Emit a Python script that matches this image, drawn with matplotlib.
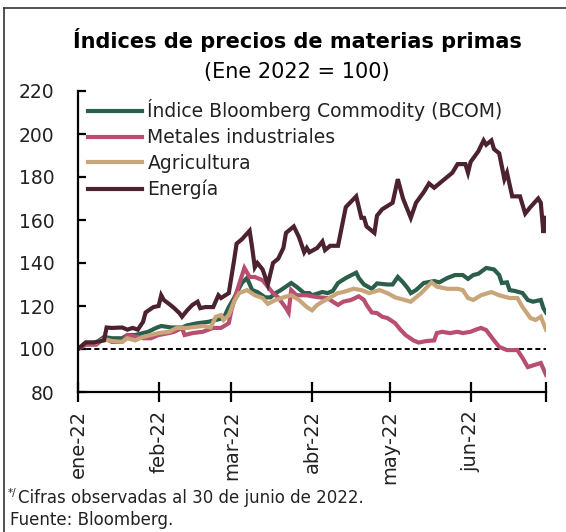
import matplotlib
matplotlib.use('Agg')
import matplotlib.pyplot as plt
import pandas as pd
from matplotlib.lines import Line2D

plt.rcParams['font.family'] = ['DejaVu Sans']

# Days counted from 1 Jan 2022
bcom_days = [0, 3, 7, 10, 13, 17, 19, 22, 25, 27, 30, 32, 36, 40, 42, 46, 50, 53, 56, 58,
             60, 63, 65, 67, 69, 72, 74, 76, 78, 82, 84, 87, 89, 90, 94, 96, 98, 100, 103, 107,
             108, 110, 113, 115, 119, 121, 123, 125, 127, 128, 130, 133, 137, 139, 142, 145, 148, 150, 152, 154,
             157, 160, 162, 163, 165, 166, 168, 171, 173, 175, 178, 179, 180]
bcom_vals = [100, 103, 103, 105.6, 105, 105, 106.5, 106.5, 107.4, 108, 109.8, 110.7, 110, 110, 111, 112, 112.6, 113.5, 114.4, 119.5,
             123.7, 130.7, 133, 127.4, 126.5, 124, 124, 126, 127.4, 130.7, 129, 126, 126, 125, 126.5, 126, 127, 130.7, 133, 135.5,
             133, 130, 128, 130.5, 130, 130, 133.5, 131, 128, 126, 127.4, 130.7, 131.6, 131, 133, 134.4, 134.4, 132.6, 134.4, 135,
             137.7, 137, 134.4, 130.7, 131, 127.4, 127, 126, 122.8, 122, 122.8, 119, 117]

metals_days = [0, 3, 7, 10, 13, 17, 19, 23, 25, 28, 31, 35, 37, 40, 41, 44, 48, 52, 55, 58,
               59, 61, 64, 66, 68, 71, 73, 75, 77, 80, 81, 82, 84, 88, 90, 93, 96, 98, 100, 102,
               105, 108, 110, 111, 113, 115, 117, 119, 122, 124, 126, 129, 131, 134, 137, 138, 140, 143, 146, 148,
               151, 153, 155, 157, 160, 162, 165, 169, 171, 173, 178, 180]
metals_vals = [100, 102, 102, 105, 103.3, 103.3, 106.5, 105.6, 105, 105, 106.5, 107.4, 108, 109.8, 106.5, 107.4, 108, 109.8, 109.8, 112,
               118, 126.5, 137.7, 133.5, 133.5, 132, 129, 126, 124, 119, 117, 127.4, 125, 125, 124.5, 124, 123.7, 122, 120.5, 122,
               122.8, 124.5, 122.8, 120.5, 117, 116.7, 115, 114.4, 112, 109, 106.5, 104, 103, 103.7, 104, 107.4, 108, 107.4, 108, 107.4,
               108, 109, 109.8, 108.8, 104, 101, 99.5, 99.5, 95.8, 91.6, 93.5, 88]

agri_days = [0, 3, 7, 10, 13, 17, 19, 22, 25, 28, 31, 35, 38, 42, 48, 51, 53, 55, 56, 58,
             60, 62, 65, 68, 71, 73, 76, 79, 82, 85, 88, 90, 92, 94, 97, 100, 102, 106, 109, 112,
             116, 119, 122, 125, 128, 132, 136, 138, 142, 146, 148, 150, 152, 155, 159, 162, 166, 169, 171, 174,
             176, 178, 180]
agri_vals = [100, 103, 103, 104.6, 103.7, 103.3, 105, 104, 105.6, 106.5, 107.4, 108, 109.8, 109.8, 110.7, 110, 115, 115.8, 113.5, 115.8,
             122, 126, 127.4, 125, 123.7, 121, 122.8, 124, 125, 122.8, 119.5, 118, 120.5, 122, 124, 126, 126.5, 128, 127.4, 126,
             127.4, 126, 124, 123, 122, 126, 131, 129, 128, 128, 127.4, 123.7, 122.8, 125, 126.5, 125, 123.7, 123.7, 119.5, 114.4,
             113.5, 115, 109]

energy_days = [0, 3, 6, 10, 11, 13, 17, 19, 21, 23, 25, 26, 29, 31, 32, 33, 35, 37, 39, 40,
               42, 44, 46, 47, 49, 52, 54, 55, 58, 59, 60, 61, 63, 66, 67, 68, 69, 71, 73, 75,
               77, 79, 80, 83, 85, 87, 88, 89, 92, 94, 95, 97, 100, 103, 107, 109, 110, 111, 114, 115,
               117, 121, 123, 125, 128, 130, 133, 135, 137, 139, 140, 142, 144, 146, 149, 150, 151, 154, 156, 157,
               159, 160, 162, 164, 165, 167, 170, 172, 174, 177, 178, 179, 180]
energy_vals = [100, 103, 103, 104, 110, 109.8, 110, 109, 109.8, 109, 112.6, 117, 119.5, 120, 125, 122.8, 121, 119, 116.7, 115,
               118, 120.5, 122, 119, 119.5, 119.5, 125, 123.7, 126, 133.5, 141, 149, 151, 155, 147, 138, 140, 137, 130, 140,
               142, 147, 154, 157, 152, 145, 147, 145, 147, 150, 146, 148, 148, 166, 171, 161, 161, 157, 154, 162,
               165, 168, 179, 170, 161, 168, 173, 177, 175, 177, 178, 180, 182, 186, 186, 182, 187, 192, 197, 195,
               197, 193, 191, 179, 182, 171, 171, 163, 166, 170, 168, 154, 161]

series_labels = ['Índice Bloomberg Commodity (BCOM)', 'Metales industriales', 'Agricultura', 'Energía']
series_colors = ['#2b5e4b', '#b84f70', '#c9a57a', '#4d2230']

tick_dates = ['2022-01-01', '2022-02-01', '2022-03-01', '2022-04-01', '2022-05-01', '2022-06-01', '2022-06-30']
tick_labels = ['ene-22', 'feb-22', 'mar-22', 'abr-22', 'may-22', 'jun-22', '']
y_ticks = [80, 100, 120, 140, 160, 180, 200, 220]
base_value = 100

origin = pd.Timestamp('2022-01-01')


def to_dates(days):
    return origin + pd.to_timedelta(days, unit='D')


W, H = 566, 532
fig = plt.figure(figsize=(W / 100, H / 100), dpi=100)
ax = fig.add_axes([78 / W, 1 - 392 / H, (546 - 78) / W, (392 - 91) / H])

data = [(bcom_days, bcom_vals), (metals_days, metals_vals), (agri_days, agri_vals), (energy_days, energy_vals)]
for (d, v), lab, col in zip(data, series_labels, series_colors):
    ax.plot(to_dates(d), v, color=col, lw=3.0, label=lab, solid_joinstyle='miter')

ax.axhline(base_value, color='black', lw=1.4, ls=(0, (2.6, 1.6)), zorder=1)

ax.set_xlim(pd.Timestamp(tick_dates[0]), pd.Timestamp(tick_dates[-1]))
ax.set_ylim(y_ticks[0], y_ticks[-1])
ax.set_yticks(y_ticks)
ax.set_xticks(pd.to_datetime(tick_dates))
ax.set_xticklabels(tick_labels, rotation=90)

for s in ['top', 'right']:
    ax.spines[s].set_visible(False)
for s in ['left', 'bottom']:
    ax.spines[s].set_linewidth(1.6)
    ax.spines[s].set_color('black')

ax.tick_params(axis='y', direction='in', length=6, width=1.6, pad=17, labelsize=13.5, labelcolor='#222222')
ax.tick_params(axis='x', direction='inout', length=14, width=1.6, pad=6, labelsize=14, labelcolor='#222222')

leg = ax.legend(loc='upper left', bbox_to_anchor=(0.021, 0.972), frameon=False, fontsize=13.5,
                handlelength=2.9, handletextpad=0.28, labelspacing=0.36, borderpad=0, borderaxespad=0)
for t in leg.get_texts():
    t.set_color('#222222')

fig.text(297 / W, 1 - 48 / H, 'Índices de precios de materias primas', ha='center', va='baseline',
         fontsize=15, fontweight='bold', color='black')
fig.text(297 / W, 1 - 78 / H, '(Ene 2022 = 100)', ha='center', va='baseline', fontsize=15, color='black')

fig.text(8 / W, 1 - 496 / H, '*/', ha='left', va='baseline', fontsize=7.5, color='#222222')
fig.text(18 / W, 1 - 503 / H, 'Cifras observadas al 30 de junio de 2022.', ha='left', va='baseline',
         fontsize=12, color='#222222')
fig.text(10 / W, 1 - 525 / H, 'Fuente: Bloomberg.', ha='left', va='baseline', fontsize=12, color='#222222')

fig.add_artist(Line2D([4 / W, 4 / W], [0, 1 - 7.5 / H], transform=fig.transFigure, color='#333333', lw=1.2))
fig.add_artist(Line2D([4 / W, 1], [1 - 7.5 / H, 1 - 7.5 / H], transform=fig.transFigure, color='#333333', lw=1.2))

fig.savefig('out.png', dpi=100)
